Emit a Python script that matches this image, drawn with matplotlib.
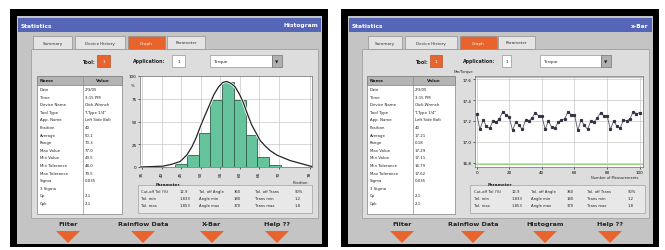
import matplotlib.pyplot as plt
import matplotlib.patches as mpatches
import numpy as np

W, H = 665, 251

# ---- table contents (same for both windows, values differ) ----
row_names = ['Date', 'Time', 'Device Name', 'Tool Type', 'App. Name', 'Position',
             'Average', 'Range', 'Max Value', 'Min Value', 'Min Tolerance',
             'Max Tolerance', 'Sigma', '3 Sigma', 'Cp', 'Cpk']
row_values_hist = ['2/3/05', '3:15 PM', 'Click-Wrench', 'T-Type 1/4"', 'Left Side Bolt',
                   '40', '50.1', '73.3', '77.0', '49.5', '48.0', '79.5', '0.035', '',
                   '2.1', '2.1']
row_values_xbar = ['2/3/05', '3:15 PM', 'Click-Wrench', 'T-Type 1/4"', 'Left Side Bolt',
                   '40', '17.21', '0.18', '17.29', '17.11', '16.79', '17.62', '0.035', '',
                   '2.1', '2.1']

# ---- histogram ----
hist_edges = [17, 23, 29, 35, 41, 47, 53, 59, 65, 71]
hist_counts = [3, 13, 37, 74, 93, 74, 35, 11, 2]
fit_x = [-1.0, 5.8, 11.0, 15.2, 19.5, 22.9, 25.5, 27.7, 29.8, 32.3, 34.9, 36.9, 39.2,
         41.4, 43.4, 45.5, 47.7, 49.9, 52.0, 54.0, 56.2, 58.5, 60.5, 63.1, 65.6,
         69.1, 72.5, 75.9, 79.3, 82.7, 87.0]
fit_y = [0, 0.5, 1, 3, 6, 13, 22, 32, 44, 57, 70, 80, 88, 93, 94, 92, 88, 80, 70,
         58, 46, 37, 29, 23, 18, 13, 10, 7, 5, 3, 0.5]
hist_xticks = [0, 10, 20, 30, 40, 50, 60, 70, 86]
hist_xlabels = ['35', '40', '45', '50', '55', '60', '65', '70', '78']
hist_yticks = [0, 25, 50, 75, 100]

# ---- x-bar chart ----
xbar_n = list(range(0, 101, 2))
xbar_vals = [17.27, 17.12, 17.21, 17.15, 17.13, 17.20, 17.19, 17.22, 17.29, 17.26,
             17.24, 17.11, 17.19, 17.16, 17.12, 17.21, 17.20, 17.23, 17.28, 17.25,
             17.25, 17.12, 17.20, 17.14, 17.13, 17.19, 17.21, 17.22, 17.29, 17.26,
             17.26, 17.11, 17.21, 17.16, 17.12, 17.20, 17.19, 17.23, 17.28, 17.25,
             17.25, 17.12, 17.20, 17.15, 17.13, 17.21, 17.20, 17.22, 17.29, 17.27,
             17.28]
xbar_limits = [16.79, 17.62]
xbar_yticks = [16.8, 17.0, 17.2, 17.4, 17.6]
xbar_xticks = [0, 20, 40, 60, 80, 100]

param_rows = [['Cut-off Tol (%)', '12.9', 'Tol. off Angle', '360', 'Tol. off Trans', '90%'],
              ['Tol. min', '1.833', 'Angle min', '180', 'Trans min', '1.2'],
              ['Tol. max', '1.853', 'Angle max', '370', 'Trans max', '1.8']]

ORANGE = '#e8642c'
BLUE = '#5565b8'
GREEN = '#66c49c'

plt.rcParams['font.family'] = 'DejaVu Sans'
fig = plt.figure(figsize=(W / 100, H / 100), dpi=100)
ui = fig.add_axes([0, 0, 1, 1])
ui.set_xlim(0, W)
ui.set_ylim(H, 0)
ui.axis('off')


def rect(x0, y0, x1, y1, fc, ec='none', lw=0.5, z=1):
    ui.add_patch(mpatches.Rectangle((x0, y0), x1 - x0, y1 - y0, facecolor=fc,
                                    edgecolor=ec, linewidth=lw, zorder=z))


def txt(x, y, s, size=3.2, color='#222222', ha='left', weight='normal', z=5):
    ui.text(x, y, s, fontsize=size, color=color, ha=ha, va='center',
            fontweight=weight, zorder=z)


def px_axes(x0, y0, x1, y1):
    return fig.add_axes([x0 / W, 1 - y1 / H, (x1 - x0) / W, (y1 - y0) / H])


def window(p):
    ox = p['ox']
    rect(ox + 10, 10, ox + 328, 248, 'black')
    rect(ox + 17, 17, ox + 322, 245, '#c4c4c4')
    rect(ox + 18, 19, ox + 321, 33, BLUE)
    txt(ox + 21, 26, 'Statistics', 4.2, 'white', weight='bold')
    txt(ox + 318, 26, p['title'], 4.2, 'white', ha='right', weight='bold')
    # content panel and tabs
    rect(ox + 31, 50, ox + 318, 219, '#dddddd', '#a0a0a0', 0.6)
    for (a, b), name in zip(p['tabs'], ['Summary', 'Device History', 'Graph', 'Parameter']):
        active = name == 'Graph'
        rect(a, 37, b, 50, ORANGE if active else '#e4e4e4', '#909090', 0.5, z=2)
        txt((a + b) / 2, 43.5, name, 3.0, 'white' if active else '#333333', ha='center')
    # tool row
    txt(p['tool'][0] - 2, 62, 'Tool:', 3.4, ha='right', weight='bold')
    rect(p['tool'][0], 56, p['tool'][1], 68, ORANGE, '#b04010', 0.4)
    txt((p['tool'][0] + p['tool'][1]) / 2, 62, '1', 3.2, 'white', ha='center')
    txt(p['app'][0] - 7, 62, 'Application:', 3.4, ha='right', weight='bold')
    rect(p['app'][0], 56, p['app'][1], 68, 'white', '#808080', 0.4)
    txt((p['app'][0] + p['app'][1]) / 2, 62, '1', 3.2, ha='center')
    rect(p['drop'][0], 56, p['drop'][1], 68, 'white', '#808080', 0.4)
    txt(p['drop'][0] + 3, 62, 'Torque', 3.2)
    rect(p['drop'][1], 56, p['drop'][1] + 10, 68, '#b0b0b0', '#606060', 0.4)
    txt(p['drop'][1] + 5, 62, '\u25bc', 3.2, '#222222', ha='center')
    # table
    tx0, tx1, tsplit = p['table']
    rect(tx0, 77, tx1, 215, 'white', '#808080', 0.5)
    rect(tx0, 77, tx1, 86, '#b4b4b4', '#808080', 0.5)
    ui.plot([tsplit, tsplit], [77, 215], color='#909090', lw=0.5, zorder=3)
    txt(tx0 + 3, 81.5, 'Name', 3.2, weight='bold')
    txt((tsplit + tx1) / 2, 81.5, 'Value', 3.2, ha='center', weight='bold')
    for i, (n, v) in enumerate(zip(row_names, p['values'])):
        y = 90 + i * 7.6
        txt(tx0 + 3, y, n, 2.8)
        txt(tsplit + 2, y, v, 2.8)
    # parameter box
    px0, px1 = p['param']
    rect(px0, 186, px1, 214, '#e8e8e8', '#a0a0a0', 0.5)
    txt(px0 + 18, 185, 'Parameter', 3.0, weight='bold')
    cols = np.array([0.02, 0.24, 0.35, 0.55, 0.67, 0.9]) * (px1 - px0) + px0
    for r, row in enumerate(param_rows):
        for c, s in enumerate(row):
            txt(cols[c], 192 + r * 7, s, 2.7)
    # buttons
    for xb, lab in zip(p['buttons'], p['blabels']):
        txt(xb, 225, lab, 4.6, '#222222', ha='center', weight='bold')
        ui.add_patch(mpatches.Polygon([[xb - 12, 232], [xb + 12, 232], [xb, 244]],
                                      closed=True, facecolor=ORANGE, edgecolor='none',
                                      zorder=3))


left = dict(ox=0, title='Histogram',
            tabs=[(33, 72), (75, 125), (128, 165), (167, 205)],
            tool=(97, 110), app=(172, 185), drop=(210, 272),
            table=(37, 122, 83), values=row_values_hist, param=(138, 312),
            buttons=[68, 143, 212, 277],
            blabels=['Filter', 'Rainflow Data', 'X-Bar', 'Help ??'])
right = dict(ox=331, title='x-Bar',
             tabs=[(368, 402), (405, 457), (460, 497), (498, 535)],
             tool=(430, 442), app=(502, 511), drop=(540, 601),
             table=(367, 455, 413), values=row_values_xbar, param=(470, 645),
             buttons=[402, 473, 545, 610],
             blabels=['Filter', 'Rainflow Data', 'Histogram', 'Help ??'])
window(left)
window(right)

# ---- histogram chart ----
ax = px_axes(140, 77, 312, 168)
ax.set_facecolor('white')
ax.bar(hist_edges[:-1], hist_counts, width=np.diff(hist_edges), align='edge',
       color=GREEN, edgecolor='#2f5f48', linewidth=0.6, zorder=2)
ax.plot(fit_x, fit_y, color='white', lw=2.0, zorder=3)
ax.plot(fit_x, fit_y, color='#222222', lw=0.9, zorder=4)
ax.set_xlim(-1, 87)
ax.set_ylim(0, 100)
ax.set_xticks(hist_xticks)
ax.set_xticklabels(hist_xlabels, rotation=90, fontsize=3)
ax.set_yticks(hist_yticks)
ax.set_yticklabels([str(v) for v in hist_yticks], fontsize=3)
ax.grid(color='#c8c8c8', lw=0.5, zorder=0)
ax.tick_params(length=1.5, width=0.4, pad=1)
for s in ax.spines.values():
    s.set_linewidth(0.5)
    s.set_color('#707070')
txt(133, 86, '%', 2.8, ha='center')
txt(300, 183, 'Position', 2.8, ha='center')

# ---- x-bar chart ----
bx = px_axes(475, 77, 643, 168)
bx.set_facecolor('white')
for lim in xbar_limits:
    bx.axhline(lim, color='#9ad08a', lw=0.8, zorder=1)
bx.plot(xbar_n, xbar_vals, color='#555566', lw=0.6, marker='s', ms=1.3,
        mfc='#333344', mec='#333344', zorder=3)
bx.set_xlim(-1, 102)
bx.set_ylim(16.76, 17.63)
bx.set_xticks(xbar_xticks)
bx.set_xticklabels([str(v) for v in xbar_xticks], fontsize=3)
bx.set_yticks(xbar_yticks)
bx.set_yticklabels(['%.1f' % v for v in xbar_yticks], fontsize=3)
bx.grid(color='#c8c8c8', lw=0.5, zorder=0)
bx.tick_params(length=1.5, width=0.4, pad=1)
for s in bx.spines.values():
    s.set_linewidth(0.5)
    s.set_color('#707070')
txt(463, 72, 'Nm/Torque', 2.6, ha='center')
txt(615, 178, 'Number of Measurements', 2.6, ha='center')

fig.savefig('out.png', dpi=100)
